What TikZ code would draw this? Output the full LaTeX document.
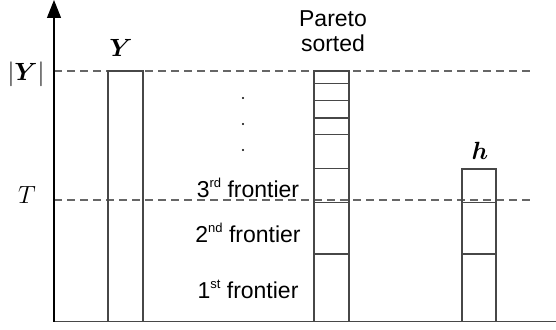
\documentclass[tikz,border=0pt]{standalone}
\usepackage{fontspec}
\setmainfont{Liberation Sans}
\usepackage{bm}
\usetikzlibrary{arrows.meta}
\newcommand\supx[1]{\raisebox{0.42em}{\fontsize{13}{13}\selectfont #1}}
\begin{document}
\begin{tikzpicture}[x=1pt,y=-1pt,
  line/.style={draw=black!72, line width=1.1pt},
  guide/.style={draw=black!60, line width=1.1pt, dash pattern=on 8pt off 5pt},
  lbl/.style={font=\fontsize{23}{25}\selectfont, inner sep=0pt},
  mlbl/.style={font=\fontsize{27}{30}\selectfont, inner sep=0pt},
  dot/.style={circle, fill=black, inner sep=0pt, minimum size=2.4pt}]
\useasboundingbox (0,0) rectangle (556,329);
% guide lines
\draw[guide] (54,71) -- (530,71);
\draw[guide] (54,200) -- (530,200);
% axes
\coordinate (origin) at (54,321.5);
\coordinate (xend) at (556,321.5);
\coordinate (ytop) at (54,0);
\draw[line] (origin) -- (xend);
\draw[draw=black, line width=1.1pt, -{Triangle[length=18pt,width=14pt]}] (origin) -- (ytop);
% Y box
\draw[line] (108,71) rectangle (143,321.5);
% Pareto box
\draw[line] (314,71) rectangle (349,321.5);
\foreach \y in {83.3,100.7,118,134.7,168.7,202.7,254}
  \draw[line] (314,\y) -- (349,\y);
% h box
\draw[line] (462,169) rectangle (496,321.5);
\foreach \y in {202.7,254}
  \draw[line] (462,\y) -- (496,\y);
% labels
\node[mlbl] (ylab) at (121,48) {$\bm{Y}$};
\node[mlbl] (card) at (26,74) {$|\bm{Y}|$};
\node[mlbl] (tlab) at (27,195) {$T$};
\node[mlbl] (hlab) at (480,151) {$\bm{h}$};
\node[lbl, align=center] (pareto) at (333,31) {Pareto\\sorted};
\node[lbl, anchor=base] (f3) at (248,197) {3\supx{rd} frontier};
\node[lbl, anchor=base] (f2) at (248,242) {2\supx{nd} frontier};
\node[lbl, anchor=base] (f1) at (248,298) {1\supx{st} frontier};
\node[dot] (d1) at (243,98) {};
\node[dot] (d2) at (243,124) {};
\node[dot] (d3) at (243,150) {};
\end{tikzpicture}
\end{document}
